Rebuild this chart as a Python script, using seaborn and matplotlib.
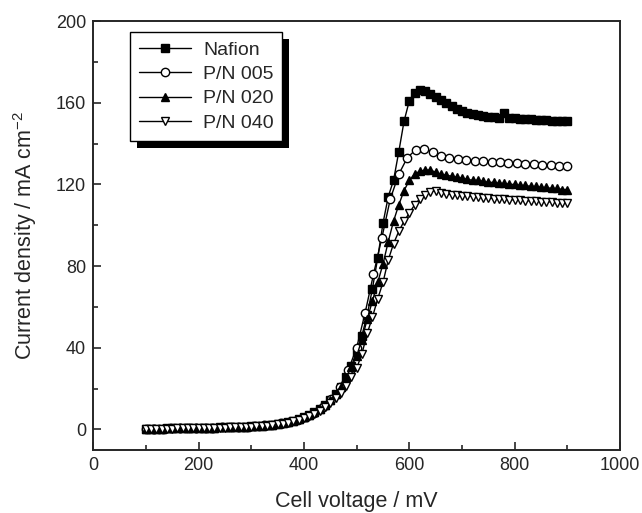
import numpy as np
import pandas as pd
import seaborn as sns
import matplotlib.pyplot as plt
from matplotlib.patches import Rectangle
from matplotlib.ticker import MultipleLocator

# sweep voltages (mV)
volt_10 = list(range(100, 910, 10))
volt_16 = list(range(100, 916, 16))

nafion = [0.3, 0.3, 0.4, 0.4, 0.5, 0.5, 0.6, 0.6, 0.7, 0.7,
          0.8, 0.8, 0.9, 0.9, 1.0, 1.0, 1.1, 1.2, 1.3, 1.4,
          1.5, 1.7, 1.9, 2.1, 2.4, 2.7, 3.1, 3.6, 4.2, 5.0,
          6.0, 7.2, 8.6, 10.2, 12.2, 14.5, 17.5, 21.0, 25.5, 31.0,
          38, 46, 56, 69, 84, 101, 114, 122, 136, 151,
          161, 165, 166, 165.5, 164.5, 163, 161.5, 160, 158.5, 157,
          156, 155, 154.5, 154, 153.5, 153, 153, 152.5, 155, 152.5,
          152.5, 152, 152, 152, 151.5, 151.5, 151.5, 151, 151, 151, 151]

pn005 = [0.3, 0.3, 0.4, 0.5, 0.5, 0.6, 0.7, 0.8, 0.9, 1.0,
         1.1, 1.2, 1.4, 1.6, 2.0, 2.4, 3.0, 3.8, 4.8, 6.3,
         8.3, 11, 15, 21, 29, 40, 57, 76, 94, 113,
         125, 133, 137, 137.5, 136, 134, 133, 132.5, 132, 131.5,
         131.5, 131, 131, 130.5, 130.5, 130, 130, 129.5, 129.5, 129,
         129]

pn020 = [0.3, 0.3, 0.4, 0.4, 0.5, 0.5, 0.6, 0.6, 0.7, 0.7,
         0.8, 0.8, 0.9, 0.9, 1.0, 1.0, 1.1, 1.2, 1.3, 1.4,
         1.5, 1.7, 1.9, 2.1, 2.4, 2.7, 3.1, 3.6, 4.2, 5.0,
         5.9, 7.0, 8.4, 10.0, 12.0, 14.5, 17.5, 21, 25.5, 30.5,
         36, 44, 54, 63, 72, 81, 92, 102, 110, 117,
         122, 125, 126.5, 127, 127, 126, 125, 124.5, 124, 123.5,
         123, 122.5, 122, 122, 121.5, 121, 121, 120.5, 120.5, 120,
         120, 119.5, 119.5, 119, 119, 118.5, 118.5, 118, 118, 117.5, 117.5]

pn040 = [0.2, 0.2, 0.3, 0.3, 0.4, 0.4, 0.5, 0.5, 0.6, 0.6,
         0.7, 0.7, 0.8, 0.8, 0.9, 0.9, 1.0, 1.1, 1.2, 1.3,
         1.4, 1.5, 1.7, 1.9, 2.2, 2.5, 2.9, 3.4, 4.0, 4.7,
         5.5, 6.5, 7.7, 9.1, 10.8, 12.8, 15.2, 18, 21.5, 25.5,
         30, 37, 47, 55, 64, 72, 83, 91, 97, 102,
         106, 110, 113, 115, 116.5, 117, 116, 115.5, 115, 115,
         114.5, 114.5, 114, 114, 113.5, 113.5, 113, 113, 113, 112.5,
         112.5, 112.5, 112, 112, 112, 111.5, 111.5, 111.5, 111, 111, 111]

series = [
    ("Nafion", volt_10, nafion, "s", "black"),
    ("P/N 005", volt_16, pn005, "o", "white"),
    ("P/N 020", volt_10, pn020, "^", "black"),
    ("P/N 040", volt_10, pn040, "v", "white"),
]

sns.set_style("ticks")
plt.rcParams['font.family'] = ['Liberation Sans', 'DejaVu Sans']
plt.rcParams['mathtext.fontset'] = 'custom'
plt.rcParams['mathtext.rm'] = 'Liberation Sans'

fig = plt.figure(figsize=(6.42, 5.13), dpi=100)
ax = fig.add_axes([0.145, 0.123, 0.821, 0.836])

for name, x, y, mk, fc in series:
    df = pd.DataFrame({"V": x, "J": y})
    sns.lineplot(data=df, x="V", y="J", ax=ax, color="black", linewidth=1,
                 marker=mk, markersize=6, markerfacecolor=fc,
                 markeredgecolor="black", markeredgewidth=1, label=name)

ax.set_xlim(0, 1000)
ax.set_ylim(-10, 200)
ax.xaxis.set_major_locator(MultipleLocator(200))
ax.xaxis.set_minor_locator(MultipleLocator(100))
ax.yaxis.set_major_locator(MultipleLocator(40))
ax.yaxis.set_minor_locator(MultipleLocator(20))
ax.tick_params(which="both", direction="in", top=False, right=False,
               labelsize=13, width=1.2)
ax.tick_params(which="major", length=6, pad=5)
ax.tick_params(which="minor", length=3.5)
for s in ax.spines.values():
    s.set_linewidth(1.4)
    s.set_visible(True)

ax.set_xlabel("Cell voltage / mV", fontsize=15.5, labelpad=12)
ax.set_ylabel("Current density / mA cm$^{-2}$", fontsize=15.5, labelpad=12)

leg = ax.legend(loc="upper left", bbox_to_anchor=(0.07, 0.974), fontsize=14,
                frameon=True, fancybox=False, framealpha=1, edgecolor="black",
                handlelength=2.7, handletextpad=0.6, borderpad=0.45,
                labelspacing=0.35, borderaxespad=0)
leg.get_frame().set_linewidth(1.0)
leg.set_zorder(6)

# solid drop shadow behind the legend box
fig.canvas.draw()
bb = leg.get_window_extent().transformed(ax.transAxes.inverted())
dx = 7 / (ax.bbox.width)
dy = 7 / (ax.bbox.height)
ax.add_patch(Rectangle((bb.x0 + dx, bb.y0 - dy), bb.width, bb.height,
                       transform=ax.transAxes, facecolor="black",
                       edgecolor="none", zorder=5, clip_on=False))

fig.savefig("out.png", dpi=100)
